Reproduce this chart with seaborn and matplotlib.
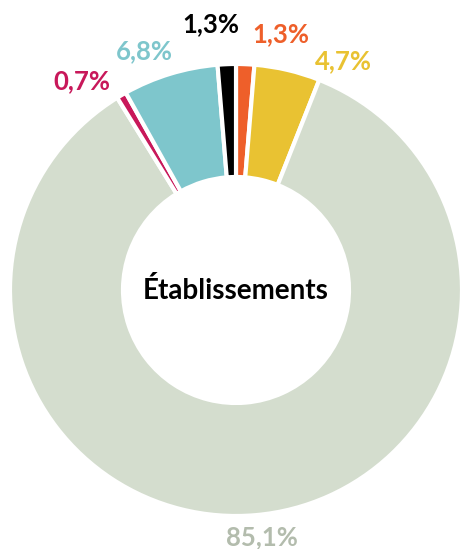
"""
Répartition des établissements - donut chart
"""

import numpy as np
import matplotlib.pyplot as plt
import seaborn as sns

sns.set_theme(style="white")
plt.rcParams['font.family'] = ['Lato', 'DejaVu Sans']

# Data (clockwise from the top)
categories = ['orange', 'jaune', 'gris', 'rouge', 'bleu', 'noir']
values = [1.3, 4.7, 85.1, 0.7, 6.8, 1.3]
labels = ['1,3%', '4,7%', '85,1%', '0,7%', '6,8%', '1,3%']
center_label = 'Établissements'

# Styles
colors = ['#EE5F2A', '#E9C232', '#D4DDCE', '#C8185A', '#7EC6CC', '#000000']
label_colors = ['#EE5F2A', '#E9C232', '#B3BCAD', '#C8185A', '#7EC6CC', '#000000']
label_r = [1.15, 1.12, 1.10, 1.15, 1.13, 1.18]
label_shift = [-7.7, -12, 1, 6, 4, 3]   # degrees, to spread labels out

fig = plt.figure(figsize=(4.62, 5.49), dpi=100)
ax = fig.add_axes([0, 0, 1, 1])

wedges, _ = ax.pie(values, colors=colors, startangle=90, counterclock=False,
                   radius=1.0,
                   wedgeprops=dict(width=0.5, edgecolor='white', linewidth=3.0))

for w, lab, c, r, s in zip(wedges, labels, label_colors, label_r, label_shift):
    ang = np.deg2rad((w.theta1 + w.theta2) / 2 + s)
    ax.text(r * np.cos(ang), r * np.sin(ang), lab, color=c,
            ha='center', va='center', fontsize=18.5, fontweight='bold')

ax.text(0, 0, center_label, ha='center', va='center',
        fontsize=20, fontweight='bold', color='black')

# map the figure so the donut sits where it does in the original
ax.set_xlim(-236 / 226, (462 - 236) / 226)
ax.set_ylim(-(549 - 290) / 226, 290 / 226)
ax.set_aspect('equal')
ax.axis('off')

plt.savefig("out.png", dpi=100)
plt.close()
